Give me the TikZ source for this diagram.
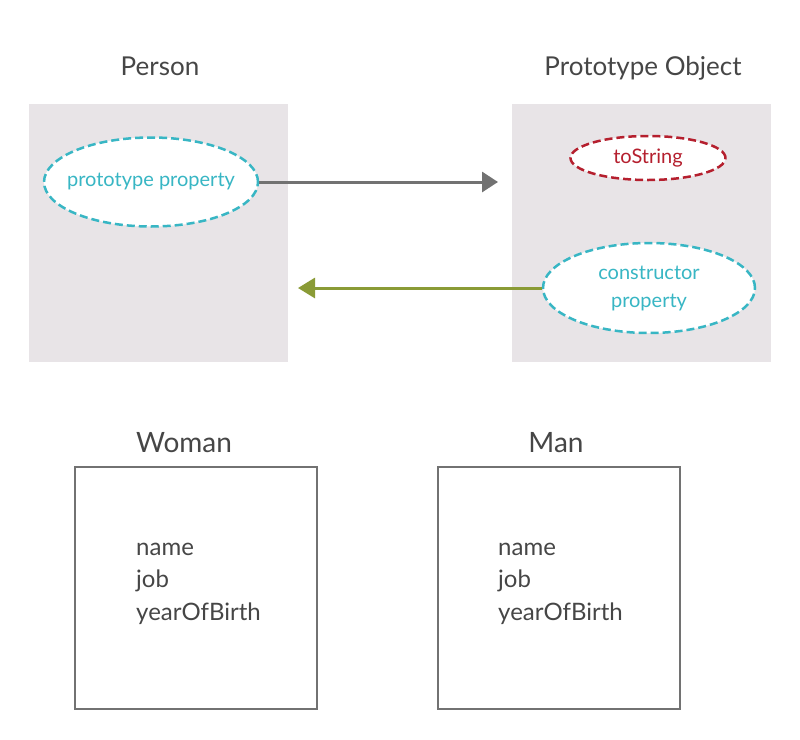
\documentclass[tikz,border=0pt]{standalone}
\usepackage{fontspec}
\setmainfont{Lato}
\usetikzlibrary{positioning,shapes.geometric,arrows.meta}

\definecolor{panelgrey}{HTML}{E8E4E7}
\definecolor{inkgrey}{HTML}{464646}
\definecolor{linegrey}{HTML}{727272}
\definecolor{propteal}{HTML}{38B6C4}
\definecolor{propred}{HTML}{B51F2E}
\definecolor{backgreen}{HTML}{8A9B36}

\begin{document}
\begin{tikzpicture}[x=1pt, y=-1pt,
  title/.style={font=\fontsize{26}{30}\selectfont, text=inkgrey, anchor=base, inner sep=0pt},
  field/.style={font=\fontsize{24}{28}\selectfont, text=inkgrey, anchor=base west, inner sep=0pt},
  panel/.style={fill=panelgrey, draw=none, minimum width=259pt, minimum height=258pt, inner sep=0pt},
  card/.style={draw=linegrey, line width=2.5pt, minimum size=242pt, inner sep=0pt},
  bubble/.style={ellipse, draw=#1, text=#1, fill=white, dash pattern=on 8pt off 4pt,
    line width=2.5pt, inner sep=0pt, align=center, font=\fontsize{20}{28}\selectfont}]

\useasboundingbox (0,0) rectangle (800,739);

% Grey panels
\node[panel] (personbox) at (158.5,233) {};
\node[panel] (protobox) at (641.5,233) {};

% Titles
\node[title] (person) at (160,75) {Person};
\node[title] (proto) at (643,75) {Prototype Object};

% Properties
\node[bubble=propteal, inner xsep=-8.5pt, minimum width=214pt, minimum height=89pt] (pp) at (151,182) {prototype property};
\node[bubble=propred, minimum width=155pt, minimum height=44pt] (ts) at (648,158) {toString};
\node[bubble=propteal, minimum width=212pt, minimum height=90pt] (cp) at (649,288) {constructor\\property};

% Links between the panels
\coordinate (ptip) at (498,182);
\coordinate (ctip) at (298,288);
\draw[-{Triangle[length=16pt,width=20pt]}, draw=linegrey, line width=3pt] (pp.east) -- (ptip);
\draw[-{Triangle[length=17pt,width=20pt]}, draw=backgreen, line width=3pt] (cp.west) -- (ctip);

% Woman
\node[title, font=\fontsize{28}{32}\selectfont] (woman) at (184,452) {Woman};
\node[card] (womanbox) at (196,588) {};
\node[field] (wname) at (136,555) {name};
\node[field] (wjob) at (136,587) {job};
\node[field] (wyear) at (136,620) {yearOfBirth};

% Man
\node[title, font=\fontsize{28}{32}\selectfont] (man) at (556,452) {Man};
\node[card] (manbox) at (559,588) {};
\node[field] (mname) at (498,555) {name};
\node[field] (mjob) at (498,587) {job};
\node[field] (myear) at (498,620) {yearOfBirth};

\end{tikzpicture}
\end{document}
